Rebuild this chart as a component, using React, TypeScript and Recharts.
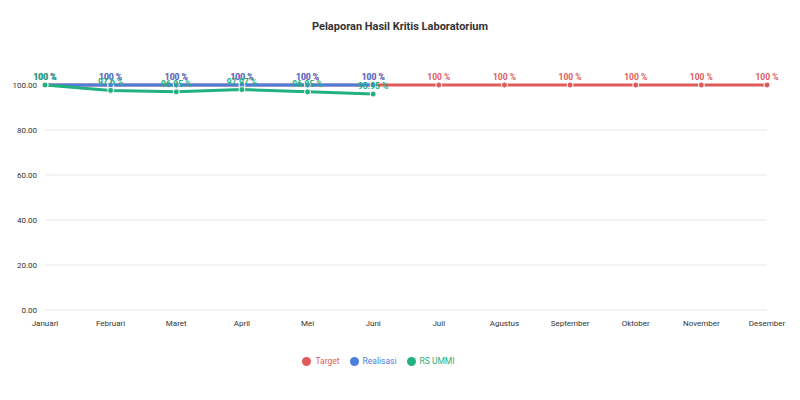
import React from 'react';
import { LineChart, Line, XAxis, YAxis, CartesianGrid, Legend, LabelList } from 'recharts';

const months = ['Januari', 'Februari', 'Maret', 'April', 'Mei', 'Juni', 'Juli', 'Agustus', 'September', 'Oktober', 'November', 'Desember'];
const target = [100, 100, 100, 100, 100, 100, 100, 100, 100, 100, 100, 100];
const realisasi = [100, 100, 100, 100, 100, 100];
const rsUmmi = [100, 97.6, 96.95, 97.97, 96.95, 95.95];
const legendOrder = ['Target', 'Realisasi', 'RS UMMI'];

const data = months.map((m, i) => ({
  month: m,
  target: target[i],
  realisasi: realisasi[i],
  rs: rsUmmi[i],
}));

const fmt = (v: any) => (v == null ? '' : `${v} %`);

export default function App() {
  return (
    <div style={{ width: 800, height: 400, fontFamily: 'Roboto, "Open Sans", sans-serif', position: 'relative', margin: -8 }}>
      <div style={{ position: 'absolute', top: 20, width: 800, textAlign: 'center', fontSize: 11, fontWeight: 'bold', color: '#333' }}>
        Pelaporan Hasil Kritis Laboratorium
      </div>
      <LineChart width={800} height={400} data={data} margin={{ top: 85, right: 33, left: 0, bottom: 0 }}>
        <CartesianGrid vertical={false} stroke="#e6e6e6" />
        <XAxis dataKey="month" height={20} tick={{ fill: '#333', fontSize: 8 }} tickLine={false} axisLine={false} tickMargin={4} />
        <YAxis domain={[0, 100]} ticks={[0, 20, 40, 60, 80, 100]} tickFormatter={(v) => v.toFixed(2)} tick={{ fill: '#333', fontSize: 8 }} tickLine={false} axisLine={false} width={45} />
        <Legend
          iconType="circle"
          iconSize={9}
          height={44}
          verticalAlign="bottom"
          itemSorter={(item: any) => legendOrder.indexOf(item.value)}
          wrapperStyle={{ fontSize: 8.5, color: '#333', paddingTop: 26 }}
        />
        <Line type="linear" dataKey="target" name="Target" stroke="#e05a5a" strokeWidth={3} dot={{ r: 3, fill: '#e05a5a', stroke: '#fff', strokeWidth: 1 }} isAnimationActive={false}>
          <LabelList dataKey="target" position="top" formatter={fmt} style={{ fill: '#e05a5a', fontSize: 8.5, fontWeight: 'bold' }} />
        </Line>
        <Line type="linear" dataKey="realisasi" name="Realisasi" stroke="#4a7fe0" strokeWidth={3} dot={{ r: 3, fill: '#4a7fe0', stroke: '#fff', strokeWidth: 1 }} isAnimationActive={false}>
          <LabelList dataKey="realisasi" position="top" formatter={fmt} style={{ fill: '#4a7fe0', fontSize: 8.5, fontWeight: 'bold' }} />
        </Line>
        <Line type="linear" dataKey="rs" name="RS UMMI" stroke="#22b07d" strokeWidth={3} dot={{ r: 3, fill: '#22b07d', stroke: '#fff', strokeWidth: 1 }} isAnimationActive={false}>
          <LabelList dataKey="rs" position="top" formatter={fmt} style={{ fill: '#22b07d', fontSize: 8.5, fontWeight: 'bold' }} />
        </Line>
      </LineChart>
    </div>
  );
}
